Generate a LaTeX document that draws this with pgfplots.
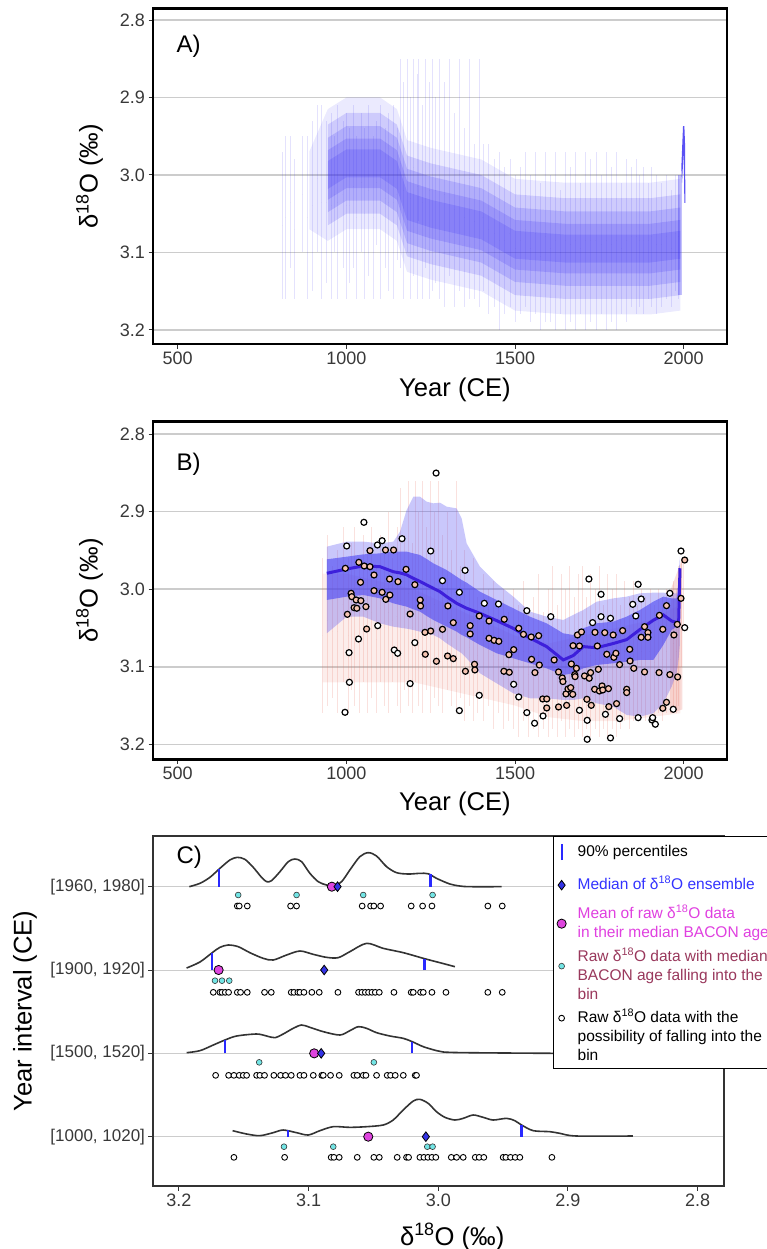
\documentclass[border=0pt]{standalone}
\usepackage{fontspec}
\setmainfont{Liberation Sans}
\usepackage{pgfplots}
\usepackage{pgfplotstable}
\pgfplotsset{compat=1.18}

\definecolor{ensblue}{rgb}{0.24,0.20,0.95}
\definecolor{bandblue}{rgb}{0.30,0.28,0.95}
\definecolor{medline}{rgb}{0.24,0.12,0.86}
\definecolor{ensred}{rgb}{0.90,0.42,0.36}
\definecolor{salmon}{rgb}{0.96,0.77,0.70}
\definecolor{gridgray}{rgb}{0.80,0.80,0.80}
\definecolor{pctblue}{rgb}{0.16,0.16,1.0}
\definecolor{diamblue}{rgb}{0.20,0.20,0.90}
\definecolor{magpt}{rgb}{0.87,0.27,0.87}
\definecolor{cyanpt}{rgb}{0.45,0.90,0.90}
\definecolor{legblue}{rgb}{0.2,0.2,1.0}
\definecolor{legmag}{rgb}{0.88,0.25,0.88}
\definecolor{legmaroon}{rgb}{0.60,0.22,0.36}
\definecolor{dgray}{rgb}{0.2,0.2,0.2}

\newcommand{\tickfont}{\fontsize{18}{20}\selectfont}
\newcommand{\labfont}{\fontsize{25.6}{28}\selectfont}
\newcommand{\legfont}{\fontsize{15.5}{19}\selectfont}
\newcommand{\dO}{δ\textsuperscript{18}O}
\newcommand{\legbox}[1]{\path[draw=none,fill=none] (-1pt,-1pt) rectangle (9pt,#1);}

% Panel A: ensemble spread (vertical streaks): year, low value, high value
\pgfplotstableread{
x lo hi
810 2.97 3.16
820 2.95 3.16
835 2.95 3.12
845 2.98 3.16
870 2.95 3.10
885 2.95 3.16
900 2.93 3.15
915 2.91 3.10
925 2.91 3.16
940 2.93 3.14
955 2.92 3.16
965 2.95 3.10
975 2.91 3.16
990 2.93 3.12
1000 2.92 3.16
1010 2.94 3.14
1020 2.91 3.12
1030 2.95 3.16
1045 2.92 3.10
1055 2.94 3.16
1065 2.91 3.13
1080 2.95 3.16
1090 2.93 3.09
1100 2.91 3.16
1115 2.94 3.12
1125 2.92 3.15
1140 2.91 3.16
1150 2.94 3.11
1160 2.85 3.12
1170 2.88 3.16
1180 2.85 3.10
1190 2.90 3.16
1200 2.85 3.13
1210 2.87 3.16
1215 2.85 3.06
1225 2.91 3.16
1235 2.85 3.12
1245 2.88 3.16
1255 2.85 3.15
1265 2.90 3.14
1275 2.85 3.16
1290 2.88 3.17
1305 2.85 3.13
1320 2.92 3.17
1335 2.85 3.15
1350 2.94 3.17
1365 2.85 3.16
1380 2.96 3.16
1395 2.85 3.17
1405 2.96 3.15
1420 2.96 3.18
1440 2.98 3.17
1455 2.97 3.20
1470 2.99 3.18
1485 2.98 3.17
1500 3.00 3.19
1515 2.99 3.18
1530 2.97 3.17
1545 3.00 3.19
1560 2.97 3.18
1575 3.01 3.20
1590 2.97 3.19
1605 3.00 3.19
1620 2.97 3.20
1635 3.02 3.18
1650 2.97 3.20
1665 2.99 3.19
1680 2.97 3.20
1695 3.01 3.18
1710 2.97 3.20
1725 2.98 3.19
1740 2.97 3.20
1755 3.00 3.18
1770 2.97 3.20
1785 2.99 3.19
1800 2.97 3.20
1815 3.01 3.18
1830 2.98 3.19
1845 2.99 3.17
1860 2.98 3.18
1870 3.00 3.17
1880 2.99 3.18
1895 3.01 3.16
1905 2.99 3.17
1920 3.00 3.18
1935 3.01 3.17
1950 3.00 3.16
1965 3.02 3.17
1975 3.00 3.15
1985 3.00 3.16
}\ensA

% Panel B: median of the ensemble
\pgfplotstableread{
year med
942 2.9795
1000.9 2.9740
1050.3 2.9700
1099.7 2.9710
1139.2 2.9775
1159.0 2.9790
1178.7 2.9815
1198.5 2.9860
1218.3 2.9900
1238.0 2.9945
1257.8 2.9989
1277.5 3.0032
1297.3 3.0096
1326.9 3.0182
1341.8 3.0215
1356.6 3.0246
1396.1 3.0311
1445.5 3.0405
1494.9 3.0505
1544.3 3.0630
1593.7 3.0740
1643.1 3.0912
1672.7 3.0855
1702.4 3.0740
1741.9 3.0755
1791.3 3.0700
1830.8 3.0650
1870.3 3.0520
1909.9 3.0400
1939.5 3.0332
1964.2 3.0410
1979.0 3.0430
1985.0 3.0440
1989.0 2.9730
}\medB

% Panel B: red ensemble of raw-data age models (vertical streaks)
\pgfplotstableread{
x lo hi
930 2.96 3.16
945 2.93 3.15
960 2.97 3.14
975 2.95 3.16
990 2.92 3.12
1005 2.96 3.16
1015 2.94 3.13
1025 2.92 3.15
1040 2.96 3.16
1050 2.93 3.12
1062 2.95 3.16
1075 2.92 3.14
1088 2.97 3.16
1100 2.93 3.12
1112 2.95 3.15
1125 2.90 3.16
1138 2.96 3.12
1150 2.92 3.15
1160 2.87 3.16
1172 2.93 3.13
1185 2.86 3.15
1196 2.94 3.16
1205 2.86 3.12
1215 2.90 3.15
1226 2.86 3.16
1238 2.92 3.13
1250 2.86 3.16
1262 2.90 3.14
1274 2.86 3.15
1286 2.93 3.16
1300 2.90 3.13
1312 2.95 3.15
1325 2.86 3.16
1338 2.97 3.14
1350 2.95 3.17
1365 3.00 3.15
1378 2.96 3.17
1390 3.01 3.16
1405 2.98 3.17
1420 3.00 3.15
1435 2.99 3.18
1450 3.02 3.16
1465 3.00 3.18
1480 3.03 3.17
1495 3.00 3.18
1510 3.02 3.19
1525 2.99 3.17
1540 3.03 3.19
1555 3.01 3.18
1570 2.98 3.19
1585 3.03 3.18
1600 3.00 3.19
1612 2.97 3.18
1625 3.02 3.19
1638 2.98 3.17
1650 3.00 3.19
1662 2.97 3.18
1675 3.01 3.19
1688 2.98 3.18
1700 2.97 3.19
1712 3.01 3.18
1725 2.98 3.19
1738 3.00 3.18
1750 2.97 3.19
1762 3.02 3.18
1775 2.98 3.19
1788 3.00 3.18
1800 2.98 3.19
1812 3.02 3.18
1825 2.99 3.17
1838 3.01 3.18
1850 2.99 3.17
1862 3.02 3.17
1875 3.00 3.16
1888 3.01 3.17
1900 3.00 3.16
1912 3.02 3.17
1925 3.00 3.16
1938 3.01 3.17
1950 3.00 3.16
1960 3.02 3.16
1970 2.99 3.15
1978 3.00 3.16
1985 2.97 3.15
1992 2.96 3.10
1998 2.96 3.05
}\redB

% Panel B: raw data points (outlying, white fill)
\pgfplotstableread{
x y
996 3.1587
1001 2.9443
1008 3.0818
1009 3.1200
1036 3.0642
1052 2.9138
1092 2.9430
1093 3.0470
1106 2.9375
1142 3.0784
1152 3.0826
1165 2.9349
1189 3.1217
1203 3.0689
1250 2.9508
1266 2.8503
1285 2.9890
1335 3.0040
1335 3.1565
1352 2.9757
1394 3.1368
1409 3.0182
1451 3.0191
1496 3.1226
1511 3.1389
1535 3.0277
1535 3.1591
1558 3.1728
1583 3.1634
1606 3.0354
1691 3.1561
1714 3.1690
1714 3.1935
1719 2.9869
1730 3.0431
1755 3.0354
1755 3.0066
1768 3.1613
1783 3.0375
1783 3.1917
1810 3.1668
1849 3.0195
1858 3.0345
1865 2.9937
1865 3.1656
1874 3.0126
1906 3.1686
1908 3.1656
1916 3.1741
1959 3.0053
1969 3.1548
1992 2.9508
2003 3.0496
}\ptsW

% Panel B: raw data points (salmon fill)
\pgfplotstableread{
x y
997 2.9731
1003 3.0324
1014 3.0053
1016 3.0096
1023 3.0238
1029 3.0139
1031 3.0246
1043 3.0148
1042 2.9911
1037 2.9654
1053 2.9701
1058 3.0225
1060 3.0513
1070 2.9710
1070 2.9503
1082 2.9817
1082 3.0019
1106 3.0040
1116 2.9495
1117 3.0131
1128 2.9869
1129 3.0075
1140 2.9495
1153 2.9903
1177 2.9744
1189 3.0320
1203 2.9942
1219 3.0139
1220 3.0216
1233 3.0556
1234 3.0839
1250 3.0539
1267 3.0929
1285 3.0517
1301 3.0216
1300 3.0861
1317 3.0431
1317 3.0895
1353 3.1058
1367 3.0470
1367 3.0577
1380 3.0968
1381 3.1041
1394 3.0345
1423 3.0410
1423 3.0633
1438 3.0659
1452 3.0672
1468 3.0388
1467 3.1058
1482 3.0844
1483 3.1071
1496 3.0779
1511 3.0504
1525 3.0582
1548 3.0616
1549 3.0904
1559 3.1075
1570 3.0599
1572 3.0977
1582 3.1415
1594 3.1415
1594 3.1531
1616 3.0912
1629 3.1067
1629 3.1518
1640 3.1144
1642 3.1191
1651 3.1350
1653 3.1497
1657 3.1286
1665 3.1269
1667 3.0964
1672 3.0728
1671 3.1355
1677 3.1101
1678 3.1127
1682 3.1020
1685 3.0590
1691 3.0732
1697 3.0551
1706 3.1118
1713 3.1419
1720 3.1148
1724 3.1075
1726 3.1497
1736 3.1290
1737 3.0556
1744 3.0732
1747 3.1033
1750 3.1312
1758 3.1247
1760 3.1299
1766 3.0560
1772 3.0839
1777 3.1282
1778 3.1514
1791 3.0590
1793 3.0878
1799 3.0826
1801 3.1475
1810 3.0972
1819 3.0534
1831 3.1290
1831 3.1333
1840 3.0775
1841 3.0925
1852 3.1020
1874 3.0620
1884 3.0483
1884 3.1067
1894 3.0560
1894 3.0620
1928 3.0337
1927 3.1075
1938 3.0517
1938 3.1535
1949 3.0212
1949 3.1458
1959 3.1101
1971 3.0590
1981 3.0453
1982 3.1131
1992 3.0118
2003 2.9624
}\ptsS

\pgfplotsset{
  ab/.style={
    scale only axis, width=574pt,
    xmin=426.8, xmax=2128.4, y dir=reverse,
    xtick={500,1000,1500,2000}, ytick={2.8,2.9,3.0,3.1,3.2},
    ymajorgrids, major grid style={line width=1.6pt, gridgray},
    axis line style={line width=2.6pt, black},
    tick align=outside, xtick pos=bottom, ytick pos=left,
    major tick length=4.5pt,
    every tick/.style={line width=1pt, black!80},
    ticklabel style={font=\tickfont, text=black!78},
    /pgf/number format/assume math mode=true,
    xticklabel style={/pgf/number format/1000 sep={}},
    yticklabel style={/pgf/number format/.cd, fixed, fixed zerofill, precision=1},
    xlabel={Year (CE)}, ylabel={\dO{} (‰)},
    xlabel style={font=\labfont, anchor=base},
    ylabel style={font=\labfont, anchor=center, at={(axis description cs:-0.1106,0.5)}},
  },
  streaks/.style={forget plot, only marks, mark=*, mark size=0pt, mark options={draw=none, fill=none},
    error bars/.cd, y dir=both, y explicit, error mark=none},
  enslayer/.style={fill=ensblue, fill opacity=#1, draw=none},
}

\begin{document}
\begin{tikzpicture}
\useasboundingbox (0,0) rectangle (766pt,-1249pt);

%================ Panel A =================
\begin{axis}[ab, at={(153pt,-8.3pt)}, anchor=north west, height=335.7pt,
  ymin=2.7849, ymax=3.2181,
  xlabel style={at={(axis description cs:0.526,-0.1558)}}]
\addplot[enslayer=0.10] coordinates {
 (890,2.97)(945,2.915)(1000,2.90)(1100,2.90)(1150,2.915)(1180,2.955)(1250,2.965)(1300,2.97)(1400,2.98)(1500,3.005)(1650,3.01)(1800,3.01)(1900,3.01)(1990,3.005)
 (1990,3.175)(1900,3.18)(1800,3.18)(1650,3.18)(1500,3.175)(1400,3.15)(1300,3.14)(1250,3.135)(1180,3.125)(1150,3.085)(1100,3.07)(1000,3.07)(945,3.085)(890,3.07)};
\addplot[enslayer=0.17] coordinates {
 (945,2.935)(1000,2.92)(1100,2.92)(1150,2.935)(1180,2.975)(1250,2.985)(1300,2.99)(1400,3.00)(1500,3.025)(1650,3.03)(1800,3.03)(1900,3.03)(1990,3.025)
 (1990,3.155)(1900,3.16)(1800,3.16)(1650,3.16)(1500,3.155)(1400,3.13)(1300,3.12)(1250,3.115)(1180,3.105)(1150,3.065)(1100,3.05)(1000,3.05)(945,3.065)};
\addplot[enslayer=0.19] coordinates {
 (945,2.952)(1000,2.937)(1100,2.937)(1150,2.952)(1180,2.992)(1250,3.002)(1300,3.007)(1400,3.017)(1500,3.042)(1650,3.047)(1800,3.047)(1900,3.047)(1990,3.042)
 (1990,3.138)(1900,3.143)(1800,3.143)(1650,3.143)(1500,3.138)(1400,3.113)(1300,3.103)(1250,3.098)(1180,3.088)(1150,3.048)(1100,3.033)(1000,3.033)(945,3.048)};
\addplot[enslayer=0.2] coordinates {
 (945,2.968)(1000,2.953)(1100,2.953)(1150,2.968)(1180,3.008)(1250,3.018)(1300,3.023)(1400,3.033)(1500,3.058)(1650,3.063)(1800,3.063)(1900,3.063)(1990,3.058)
 (1990,3.122)(1900,3.127)(1800,3.127)(1650,3.127)(1500,3.122)(1400,3.097)(1300,3.087)(1250,3.082)(1180,3.072)(1150,3.032)(1100,3.017)(1000,3.017)(945,3.032)};
\addplot[enslayer=0.2] coordinates {
 (945,2.982)(1000,2.967)(1100,2.967)(1150,2.982)(1180,3.022)(1250,3.032)(1300,3.037)(1400,3.047)(1500,3.072)(1650,3.077)(1800,3.077)(1900,3.077)(1990,3.072)
 (1990,3.108)(1900,3.113)(1800,3.113)(1650,3.113)(1500,3.108)(1400,3.083)(1300,3.073)(1250,3.068)(1180,3.058)(1150,3.018)(1100,3.003)(1000,3.003)(945,3.018)};
\addplot[enslayer=0.30] coordinates {
 (1983,3.0)(1995,3.0)(1995,3.155)(1983,3.155)};
\addplot[enslayer=0.85] coordinates {
 (1993,2.99)(1998,2.937)(2002,2.937)(2004,2.96)(2005,3.036)(2002,3.036)(2000,2.97)(1995,3.01)};
\addplot[streaks, error bar style={line width=0.9pt, ensblue, draw opacity=0.14}]
  table[x=x, y expr={(\thisrow{lo}+\thisrow{hi})/2}, y error expr={(\thisrow{hi}-\thisrow{lo})/2}] {\ensA};
\node[anchor=west, font=\fontsize{24}{26}\selectfont] at (axis description cs:0.0348,0.888) {A)};
\end{axis}

%================ Panel B =================
\begin{axis}[ab, at={(153pt,-421.7pt)}, anchor=north west, height=337.6pt,
  ymin=2.7841, ymax=3.2193,
  xlabel style={at={(axis description cs:0.526,-0.1502)}}]
\addplot[fill=ensred, fill opacity=0.12, draw=none] coordinates {
 (930,2.98)(1000,2.98)(1100,2.99)(1200,3.0)(1300,3.02)(1400,3.04)(1500,3.06)(1600,3.07)(1700,3.06)(1800,3.05)(1900,3.04)(1990,3.02)
 (1990,3.16)(1900,3.165)(1800,3.17)(1700,3.17)(1600,3.165)(1500,3.15)(1400,3.14)(1300,3.13)(1200,3.12)(1100,3.12)(1000,3.12)(930,3.12)};
\addplot[fill=ensred, fill opacity=0.22, draw=none] coordinates {
 (1962,3.0)(1996,2.96)(1996,3.155)(1962,3.16)};
\addplot[streaks, error bar style={line width=0.9pt, ensred, draw opacity=0.2}]
  table[x=x, y expr={(\thisrow{lo}+\thisrow{hi})/2}, y error expr={(\thisrow{hi}-\thisrow{lo})/2}] {\redB};
% outer (light) band
\addplot[fill=bandblue, fill opacity=0.30, draw=none] coordinates {
 (942,2.9452)(1000.9,2.9387)(1050.3,2.9387)(1099.7,2.9409)(1139.2,2.9387)(1159.0,2.9259)(1178.7,2.8979)(1198.5,2.8807)(1218.3,2.8807)(1238.0,2.8872)(1257.8,2.8893)(1277.5,2.8885)(1297.3,2.8936)(1326.9,2.8958)(1341.8,2.9087)(1356.6,2.9409)(1396.1,2.9710)(1445.5,2.9924)(1494.9,3.0096)(1544.3,3.0289)(1593.7,3.0354)(1643.1,3.0397)(1672.7,3.0332)(1702.4,3.0268)(1741.9,3.0161)(1791.3,3.0118)(1830.8,3.0096)(1870.3,3.0053)(1909.9,3.0045)(1939.5,3.0045)(1964.2,3.0053)(1979.0,3.0053)(1985.0,2.9900)(1989.0,2.9580)
 (1989.0,3.0700)(1985.0,3.0900)(1979.0,3.1084)(1964.2,3.1256)(1939.5,3.1471)(1909.9,3.1600)(1870.3,3.1643)(1830.8,3.1621)(1791.3,3.1514)(1741.9,3.1471)(1702.4,3.1406)(1672.7,3.1428)(1643.1,3.1428)(1593.7,3.1406)(1544.3,3.1406)(1494.9,3.1342)(1445.5,3.1213)(1396.1,3.1084)(1356.6,3.0891)(1341.8,3.0826)(1326.9,3.0784)(1297.3,3.0698)(1277.5,3.0633)(1257.8,3.0590)(1238.0,3.0569)(1218.3,3.0547)(1198.5,3.0526)(1178.7,3.0509)(1159.0,3.0496)(1139.2,3.0483)(1099.7,3.0440)(1050.3,3.0354)(1000.9,3.0354)(942,3.0569)};
% inner (dark) band
\addplot[fill=bandblue, fill opacity=0.62, draw=none] coordinates {
 (942,2.9615)(1000.9,2.9581)(1050.3,2.9551)(1099.7,2.9538)(1139.2,2.9516)(1159.0,2.9516)(1178.7,2.9516)(1198.5,2.9538)(1218.3,2.9559)(1238.0,2.9611)(1257.8,2.9667)(1277.5,2.9710)(1297.3,2.9753)(1326.9,2.9838)(1341.8,2.9881)(1356.6,2.9916)(1396.1,3.0032)(1445.5,3.0139)(1494.9,3.0246)(1544.3,3.0354)(1593.7,3.0440)(1643.1,3.0569)(1672.7,3.0590)(1702.4,3.0504)(1741.9,3.0440)(1791.3,3.0418)(1830.8,3.0354)(1870.3,3.0268)(1909.9,3.0161)(1939.5,3.0096)(1964.2,3.0118)(1979.0,3.0118)(1985.0,3.0000)(1989.0,2.9620)
 (1989.0,3.0100)(1985.0,3.0400)(1979.0,3.0483)(1964.2,3.0526)(1939.5,3.0719)(1909.9,3.0912)(1870.3,3.0912)(1830.8,3.0934)(1791.3,3.0955)(1741.9,3.0977)(1702.4,3.1020)(1672.7,3.1084)(1643.1,3.1106)(1593.7,3.1020)(1544.3,3.0955)(1494.9,3.0891)(1445.5,3.0826)(1396.1,3.0719)(1356.6,3.0620)(1341.8,3.0590)(1326.9,3.0547)(1297.3,3.0483)(1277.5,3.0440)(1257.8,3.0397)(1238.0,3.0345)(1218.3,3.0289)(1198.5,3.0259)(1178.7,3.0225)(1159.0,3.0204)(1139.2,3.0182)(1099.7,3.0118)(1050.3,3.0075)(1000.9,3.0096)(942,3.0139)};
\addplot[medline, line width=3pt] table[x=year, y=med] {\medB};
\addplot[only marks, mark=*, mark size=3pt, mark options={fill=white, draw=black, line width=1.2pt}] table[x=x, y=y] {\ptsW};
\addplot[only marks, mark=*, mark size=3pt, mark options={fill=salmon, draw=black, line width=1.2pt}] table[x=x, y=y] {\ptsS};
\node[anchor=west, font=\fontsize{24}{26}\selectfont] at (axis description cs:0.0348,0.875) {B)};
\end{axis}

%================ Panel C =================
\begin{axis}[scale only axis, width=571pt, height=350pt, at={(153pt,-836pt)}, anchor=north west,
  x dir=reverse, xmin=2.7797, xmax=3.22, ymin=0.408, ymax=4.608,
  xtick={2.8,2.9,3.0,3.1,3.2}, ytick={1,2,3,4},
  yticklabels={{[1000, 1020]},{[1500, 1520]},{[1900, 1920]},{[1960, 1980]}},
  ymajorgrids, major grid style={line width=1pt, gridgray},
  axis line style={line width=2pt, dgray},
  tick align=outside, xtick pos=bottom, ytick pos=left,
  major tick length=4.5pt,
  every tick/.style={line width=1pt, black!80},
  ticklabel style={font=\tickfont, text=black!78},
  yticklabel style={font=\fontsize{17}{19}\selectfont},
  /pgf/number format/assume math mode=true,
  xticklabel style={/pgf/number format/.cd, fixed, fixed zerofill, precision=1},
  xlabel={\dO{} (‰)}, ylabel={Year interval (CE)},
  xlabel style={font=\labfont, anchor=base, at={(axis description cs:0.524,-0.1686)}},
  ylabel style={font=\labfont, anchor=center, at={(axis description cs:-0.2242,0.5)}},
  legend style={at={(axis description cs:0.7005,1)}, anchor=north west, draw=black, line width=1.3pt,
     fill=white, inner xsep=3pt, inner ysep=3pt, row sep=1pt, column sep=10pt, font=\legfont,
     cells={anchor=west}, nodes={inner sep=1pt, text height=12pt, text depth=4pt}},
  legend cell align=left,
  ]
% density curves
\addplot[dgray, line width=1.6pt, smooth, forget plot] coordinates {
 (3.1920,4.000)(3.1838,4.040)(3.1761,4.112)(3.1684,4.220)(3.1607,4.320)(3.1550,4.352)(3.1491,4.328)(3.1427,4.232)(3.1363,4.112)(3.1324,4.060)(3.1286,4.072)(3.1221,4.180)(3.1157,4.300)(3.1106,4.332)(3.1054,4.300)(3.0990,4.160)(3.0926,4.060)(3.0862,4.020)(3.0810,4.008)(3.0746,4.060)(3.0682,4.200)(3.0605,4.360)(3.0540,4.408)(3.0476,4.368)(3.0399,4.240)(3.0322,4.168)(3.0232,4.152)(3.0142,4.160)(3.0078,4.155)(3.0014,4.100)(2.9911,4.032)(2.9834,4.008)(2.9757,4.000)(2.9512,4.000)};
\addplot[dgray, line width=1.6pt, smooth, forget plot] coordinates {
 (3.1941,3.024)(3.1838,3.096)(3.1743,3.208)(3.1684,3.272)(3.1620,3.300)(3.1543,3.280)(3.1453,3.208)(3.1350,3.140)(3.1273,3.120)(3.1170,3.180)(3.1067,3.228)(3.0964,3.188)(3.0862,3.152)(3.0772,3.148)(3.0682,3.220)(3.0553,3.320)(3.0425,3.260)(3.0270,3.208)(3.0106,3.136)(2.9988,3.088)(2.9872,3.040)};
\addplot[dgray, line width=1.6pt, smooth, forget plot] coordinates {
 (3.1941,2.008)(3.1838,2.032)(3.1735,2.100)(3.1645,2.160)(3.1555,2.208)(3.1401,2.232)(3.1324,2.208)(3.1260,2.188)(3.1196,2.232)(3.1119,2.300)(3.1054,2.340)(3.0990,2.312)(3.0887,2.260)(3.0759,2.220)(3.0682,2.272)(3.0617,2.320)(3.0553,2.300)(3.0476,2.248)(3.0373,2.208)(3.0270,2.180)(3.0201,2.140)(3.0116,2.080)(3.0013,2.032)(2.9962,2.016)(2.9782,2.008)(2.9063,2.000)(2.8500,2.000)};
\addplot[dgray, line width=1.6pt, smooth, forget plot] coordinates {
 (3.1586,1.072)(3.1478,1.032)(3.1376,1.012)(3.1273,1.048)(3.1196,1.080)(3.1093,1.048)(3.1003,1.020)(3.0913,1.072)(3.0810,1.120)(3.0682,1.112)(3.0553,1.120)(3.0425,1.140)(3.0348,1.200)(3.0271,1.320)(3.0193,1.428)(3.0142,1.448)(3.0078,1.400)(3.0014,1.300)(2.9949,1.232)(2.9872,1.200)(2.9808,1.220)(2.9731,1.260)(2.9654,1.232)(2.9577,1.200)(2.9474,1.220)(2.9410,1.192)(2.9358,1.140)(2.9268,1.072)(2.9140,1.060)(2.9063,1.040)(2.8935,1.008)(2.8500,1.008)};
% 90% percentiles
\addplot[pctblue, line width=2.2pt, forget plot] coordinates {(3.1692,4)(3.1692,4.208)};
\addplot[pctblue, line width=2.2pt, forget plot] coordinates {(3.0060,4)(3.0060,4.155)};
\addplot[pctblue, line width=2.2pt, forget plot] coordinates {(3.1743,3)(3.1743,3.208)};
\addplot[pctblue, line width=2.2pt, forget plot] coordinates {(3.0106,3)(3.0106,3.136)};
\addplot[pctblue, line width=2.2pt, forget plot] coordinates {(3.1643,2)(3.1643,2.160)};
\addplot[pctblue, line width=2.2pt, forget plot] coordinates {(3.0201,2)(3.0201,2.140)};
\addplot[pctblue, line width=2.2pt, forget plot] coordinates {(3.1162,1)(3.1162,1.075)};
\addplot[pctblue, line width=2.2pt, forget plot] coordinates {(2.9358,1)(2.9358,1.140)};
% open circles: raw data possibly in the bin
\addplot[only marks, mark=*, mark size=2.9pt, mark options={fill=white, draw=black, line width=0.9pt}, forget plot] coordinates {
 (3.1550,3.768)(3.1535,3.768)(3.1473,3.768)(3.1139,3.768)(3.1093,3.768)(3.0587,3.768)(3.0522,3.768)(3.0497,3.768)(3.0445,3.768)(3.0209,3.768)(3.0121,3.768)(3.0049,3.768)(2.9618,3.768)(2.9507,3.768)
 (3.1735,2.732)(3.1684,2.732)(3.1668,2.732)(3.1643,2.732)(3.1617,2.732)(3.1550,2.732)(3.1525,2.732)(3.1473,2.732)(3.1340,2.732)(3.1288,2.732)(3.1134,2.732)(3.1113,2.732)(3.1083,2.732)(3.1067,2.732)(3.1036,2.732)(3.0975,2.732)(3.0918,2.732)(3.0774,2.732)(3.0615,2.732)(3.0589,2.732)(3.0563,2.732)(3.0538,2.732)(3.0512,2.732)(3.0486,2.732)(3.0455,2.732)(3.0342,2.732)(3.0209,2.732)(3.0193,2.732)(3.0137,2.732)(3.0116,2.732)(3.0049,2.732)(2.9941,2.732)(2.9618,2.732)(2.9507,2.732)
 (3.1717,1.736)(3.1617,1.736)(3.1576,1.736)(3.1535,1.736)(3.1504,1.736)(3.1478,1.736)(3.1401,1.736)(3.1376,1.736)(3.1340,1.736)(3.1268,1.736)(3.1216,1.736)(3.1178,1.736)(3.1134,1.736)(3.1067,1.736)(3.1036,1.736)(3.0964,1.736)(3.0898,1.736)(3.0887,1.736)(3.0831,1.736)(3.0764,1.736)(3.0651,1.736)(3.0625,1.736)(3.0579,1.736)(3.0558,1.736)(3.0476,1.736)(3.0394,1.736)(3.0368,1.736)(3.0332,1.736)(3.0270,1.736)(3.0178,1.736)(3.0168,1.736)
 (3.1576,0.752)(3.1185,0.752)(3.0826,0.752)(3.0805,0.752)(3.0764,0.752)(3.0625,0.752)(3.0497,0.752)(3.0455,0.752)(3.0317,0.752)(3.0245,0.752)(3.0229,0.752)(3.0142,0.752)(3.0111,0.752)(3.0080,0.752)(3.0049,0.752)(3.0019,0.752)(2.9900,0.752)(2.9859,0.752)(2.9808,0.752)(2.9715,0.752)(2.9685,0.752)(2.9649,0.752)(2.9500,0.752)(2.9479,0.752)(2.9443,0.752)(2.9407,0.752)(2.9371,0.752)(2.9124,0.752)};
% cyan: raw data with median age in the bin
\addplot[only marks, mark=*, mark size=2.9pt, mark options={fill=cyanpt, draw=dgray, line width=0.6pt}, forget plot] coordinates {
 (3.1543,3.9)(3.1093,3.9)(3.0579,3.9)(3.0044,3.9)
 (3.1722,2.872)(3.1668,2.872)(3.1612,2.872)
 (3.1381,1.892)(3.0497,1.892)
 (3.1190,0.88)(3.0810,0.88)(3.0085,0.88)(3.0044,0.88)};
% mean of raw data
\addplot[only marks, mark=*, mark size=4.6pt, mark options={fill=magpt, draw=black, line width=0.8pt}, forget plot] coordinates {
 (3.0821,4)(3.1694,3)(3.0957,2)(3.0540,1)};
% median of ensemble
\addplot[only marks, mark=diamond*, mark size=4.8pt, mark options={fill=diamblue, draw=black, line width=0.8pt}, forget plot] coordinates {
 (3.0777,4)(3.0880,3)(3.0903,2)(3.0096,1)};
\node[anchor=west, font=\fontsize{24}{26}\selectfont] at (axis description cs:0.035,0.939) {C)};
% legend
\addlegendimage{legend image code/.code={\legbox{12.5pt}\begin{pgfinterruptboundingbox}\draw[pctblue, line width=2.2pt] (4pt,-8pt) -- (4pt,8pt);\end{pgfinterruptboundingbox}}}
\addlegendentry{90\% percentiles}
\addlegendimage{legend image code/.code={\legbox{23pt}\begin{pgfinterruptboundingbox}\draw[only marks, mark=diamond*, mark size=4.8pt, mark options={fill=diamblue, draw=black, line width=0.8pt}] plot coordinates {(4pt,0pt)};\end{pgfinterruptboundingbox}}}
\addlegendentry{\textcolor{legblue}{Median of \dO{} ensemble}}
\addlegendimage{legend image code/.code={\legbox{19pt}\begin{pgfinterruptboundingbox}\draw[only marks, mark=*, mark size=4.6pt, mark options={fill=magpt, draw=black, line width=0.8pt}] plot coordinates {(4pt,-9.5pt)};\end{pgfinterruptboundingbox}}}
\addlegendentry{\textcolor{legmag}{Mean of raw \dO{} data}}
\addlegendimage{empty legend}
\addlegendentry{\textcolor{legmag}{in their median BACON age}}
\addlegendimage{legend image code/.code={\legbox{14pt}\begin{pgfinterruptboundingbox}\draw[only marks, mark=*, mark size=2.9pt, mark options={fill=cyanpt, draw=dgray, line width=0.6pt}] plot coordinates {(4pt,-9pt)};\end{pgfinterruptboundingbox}}}
\addlegendentry{\textcolor{legmaroon}{Raw \dO{} data with median}}
\addlegendimage{empty legend}
\addlegendentry{\textcolor{legmaroon}{BACON age falling into the}}
\addlegendimage{empty legend}
\addlegendentry{\textcolor{legmaroon}{bin}}
\addlegendimage{legend image code/.code={\legbox{13pt}\begin{pgfinterruptboundingbox}\draw[only marks, mark=*, mark size=2.9pt, mark options={fill=white, draw=black, line width=0.9pt}] plot coordinates {(4pt,0pt)};\end{pgfinterruptboundingbox}}}
\addlegendentry{Raw \dO{} data with the}
\addlegendimage{empty legend}
\addlegendentry{possibility of falling into the\hspace*{20pt}}
\addlegendimage{empty legend}
\addlegendentry{bin}
\end{axis}
\end{tikzpicture}
\end{document}
